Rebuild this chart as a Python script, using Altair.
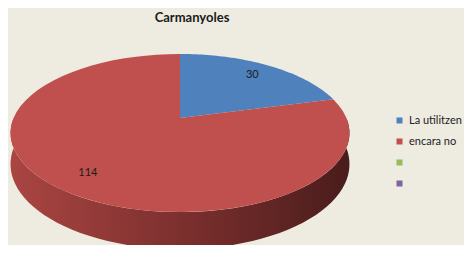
import altair as alt
import pandas as pd

# ---- data ----
categories = ["La utilitzen", "encara no"]
values = [30, 114]
legend_domain = ["La utilitzen", "encara no", "s3", "s4"]
legend_colors = ["#4f81bd", "#c0504d", "#9bbb59", "#8064a2"]
chart_title = "Carmanyoles"

# ---- style / geometry (page pixels, perspective pie) ----
CX, CY, A, B, P, D = 180, 118, 166.4, 76.2, 0.19, 30
N = 60
LABEL_R = 0.8
BG = "#eeebe1"
FONT = "Lato"

total = sum(values)
starts, acc = [], 0
for v in values:
    starts.append(acc)
    acc += v
df = pd.DataFrame({"cat": categories, "value": values, "start": starts, "total": total})

xs = alt.Scale(domain=[8, 464], nice=False, zero=False)
ys = alt.Scale(domain=[8, 245], nice=False, zero=False, reverse=True)
X = alt.X("px:Q", scale=xs, axis=None)
Y = alt.Y("py:Q", scale=ys, axis=None)

base = alt.Chart(df)

# side wall (front, visible between 90deg and 270deg)
wall = (
    base.transform_calculate(
        a0=f"max(2*PI*datum.start/datum.total, PI/2)",
        a1=f"min(2*PI*(datum.start+datum.value)/datum.total, 3*PI/2)",
    )
    .transform_filter("datum.a1 > datum.a0")
    .transform_calculate(j=f"sequence(0, {2 * N + 2})")
    .transform_flatten(["j"])
    .transform_calculate(
        t=f"datum.j <= {N} ? datum.j : {2 * N + 1} - datum.j",
        bot=f"datum.j > {N} ? 1 : 0",
    )
    .transform_calculate(a=f"datum.a0 + (datum.a1 - datum.a0) * datum.t / {N}")
    .transform_calculate(u="sin(datum.a)", v="cos(datum.a)")
    .transform_calculate(w=f"1 + {P} * datum.v")
    .transform_calculate(
        px=f"{CX} + {A} * datum.u / datum.w",
        py=f"{CY} - {B} * datum.v / datum.w + datum.bot * {D} / datum.w",
    )
    .mark_line(
        filled=True,
        interpolate="linear-closed",
        fill=alt.Gradient(
            gradient="linear",
            stops=[
                alt.GradientStop(color="#aa4542", offset=0),
                alt.GradientStop(color="#7c302e", offset=0.5),
                alt.GradientStop(color="#4a1c1c", offset=1),
            ],
            x1=0, x2=1, y1=0, y2=0,
        ),
        strokeWidth=0,
    )
    .encode(x=X, y=Y, order=alt.Order("j:Q"), detail="cat:N")
)

# top surface slices
top = (
    base.transform_calculate(k=f"sequence(-1, {N + 1})")
    .transform_flatten(["k"])
    .transform_calculate(a=f"2*PI*(datum.start + datum.value * max(datum.k, 0) / {N}) / datum.total")
    .transform_calculate(
        u="datum.k < 0 ? 0 : sin(datum.a)",
        v="datum.k < 0 ? 0 : cos(datum.a)",
    )
    .transform_calculate(w=f"1 + {P} * datum.v")
    .transform_calculate(
        px=f"{CX} + {A} * datum.u / datum.w",
        py=f"{CY} - {B} * datum.v / datum.w",
    )
    .mark_line(filled=True, interpolate="linear-closed", strokeWidth=0.5)
    .encode(
        x=X,
        y=Y,
        order=alt.Order("k:Q"),
        color=alt.Color(
            "cat:N",
            scale=alt.Scale(domain=legend_domain, range=legend_colors),
            legend=alt.Legend(
                title=None,
                orient="none",
                legendX=386,
                legendY=107,
                symbolType="square",
                symbolSize=36,
                symbolStrokeWidth=0,
                labelFont=FONT,
                labelFontSize=11,
                labelColor="#222222",
                rowPadding=9,
                padding=0,
                labelOffset=4,
                labelExpr="datum.label == 's3' || datum.label == 's4' ? '' : datum.label",
            ),
        ),
    )
)

# data labels
labels = (
    base.transform_calculate(a="2*PI*(datum.start + datum.value/2) / datum.total")
    .transform_calculate(u=f"{LABEL_R} * sin(datum.a)", v=f"{LABEL_R} * cos(datum.a)")
    .transform_calculate(w=f"1 + {P} * datum.v")
    .transform_calculate(
        px=f"{CX} + {A} * datum.u / datum.w",
        py=f"{CY} - {B} * datum.v / datum.w",
    )
    .mark_text(font=FONT, fontSize=11, color="#1b1b1b")
    .encode(x=X, y=Y, text="value:Q")
)

title = (
    alt.Chart(pd.DataFrame({"t": [chart_title]}))
    .mark_text(font=FONT, fontSize=13, fontWeight="bold", color="#1b1b1b")
    .encode(x=alt.value(184), y=alt.value(10), text="t:N")
)

chart = (
    alt.layer(wall, top, labels, title)
    .properties(width=456, height=237, background=BG, padding=0,
                autosize=alt.AutoSizeParams(type="none"))
    .configure_view(stroke=None)
)

chart.save("out.html", embed_options={"renderer": "svg", "actions": False})
